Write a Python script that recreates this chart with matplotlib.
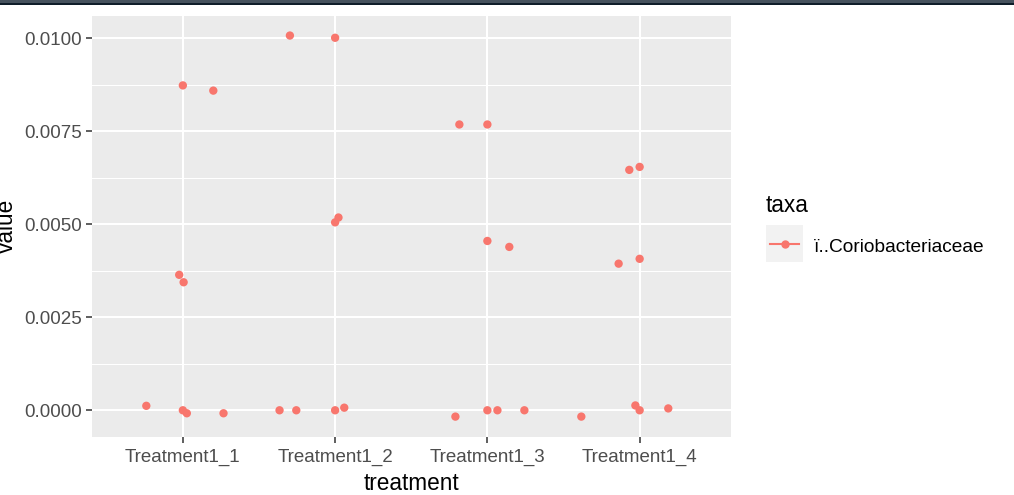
import matplotlib
matplotlib.use("Agg")
import matplotlib.pyplot as plt
from matplotlib.patches import Rectangle
from matplotlib.lines import Line2D

# Datos (jitter horizontal incluido)
treatments = ["Treatment1_1", "Treatment1_2", "Treatment1_3", "Treatment1_4"]
taxa_name = "ï..Coriobacteriaceae"

group = [1, 1, 1, 1, 1, 1, 1, 1,
         2, 2, 2, 2, 2, 2, 2, 2,
         3, 3, 3, 3, 3, 3, 3, 3,
         4, 4, 4, 4, 4, 4, 4, 4]
jitter = [0.0, 0.20, -0.024, 0.005, -0.24, 0.0, 0.026, 0.267,
          -0.297, 0.0, 0.0, 0.022, -0.365, -0.255, 0.0, 0.06,
          -0.184, 0.0, 0.0, 0.144, -0.21, 0.0, 0.066, 0.243,
          0.0, -0.068, 0.0, -0.138, -0.383, -0.028, 0.0, 0.188]
values = [0.00873, 0.00859, 0.00364, 0.00344, 0.00012, 0.0, -0.00008, -0.00008,
          0.01007, 0.01001, 0.00505, 0.00518, 0.0, 0.0, 0.0, 0.00007,
          0.00768, 0.00768, 0.00455, 0.00439, -0.00017, 0.0, 0.0, 0.0,
          0.00654, 0.00646, 0.00407, 0.00394, -0.00017, 0.00013, 0.0, 0.00005]

y_ticks = [0.0, 0.0025, 0.005, 0.0075, 0.01]
y_minor = [0.00125, 0.00375, 0.00625, 0.00875]

W, H = 1014, 495
FONT = "Liberation Sans"
fig = plt.figure(figsize=(W / 100, H / 100), dpi=100)
fig.patch.set_facecolor("white")

# Barra oscura superior (borde de ventana)
fig.patches.append(Rectangle((0, 1 - 3 / H), 1, 3 / H, transform=fig.transFigure,
                             facecolor="#46525e", edgecolor="none"))
fig.patches.append(Rectangle((0, 1 - 5 / H), 1, 2 / H, transform=fig.transFigure,
                             facecolor="#0f1d2a", edgecolor="none"))

left, right, top, bottom = 91.5, 731, 16, 437
ax = fig.add_axes([left / W, 1 - bottom / H, (right - left) / W, (bottom - top) / H])
ax.set_facecolor("#ebebeb")
for s in ax.spines.values():
    s.set_visible(False)

ax.set_xlim(0.4, 4.6)
ax.set_ylim(-0.000718, 0.010595)

for yv in y_minor:
    ax.axhline(yv, color="white", lw=0.75, zorder=1)
for yv in y_ticks:
    ax.axhline(yv, color="white", lw=1.5, zorder=1)
for i in range(len(treatments)):
    ax.axvline(i + 1, color="white", lw=1.5, zorder=1)

xs = [g + j for g, j in zip(group, jitter)]
ax.scatter(xs, values, s=36, color="#F8766D", edgecolors="none", zorder=3)

ax.set_xticks(range(1, len(treatments) + 1))
ax.set_xticklabels(treatments)
ax.set_yticks(y_ticks)
ax.set_yticklabels([f"{v:.4f}" for v in y_ticks])
ax.tick_params(axis="both", colors="#333333", length=4, width=1.1,
               labelcolor="#4d4d4d", labelsize=13.5, pad=3)
ax.tick_params(axis="x", pad=4.5)
for lab in ax.get_xticklabels() + ax.get_yticklabels():
    lab.set_family(FONT)

# Titulos de ejes
fig.text(411 / W, 1 - 490 / H, "treatment", fontsize=16.3, family=FONT,
         ha="center", va="baseline")
fig.text(12.5 / W, 1 - 226 / H, "value", rotation=90, rotation_mode="anchor",
         ha="center", va="baseline", fontsize=16.3, family=FONT)

# Leyenda manual
fig.text(766 / W, 1 - 211.5 / H, "taxa", fontsize=16.3, family=FONT,
         ha="left", va="baseline")
fig.patches.append(Rectangle((766 / W, 1 - 262 / H), 37 / W, 37 / H,
                             transform=fig.transFigure, facecolor="#f2f2f2",
                             edgecolor="none"))
fig.lines.append(Line2D([770 / W, 799 / W], [1 - 244 / H, 1 - 244 / H],
                        transform=fig.transFigure, color="#F8766D", lw=1.5))
fig.lines.append(Line2D([784.5 / W], [1 - 244 / H], transform=fig.transFigure,
                        marker="o", markersize=5, color="#F8766D", lw=0))
fig.text(814 / W, 1 - 251.5 / H, taxa_name, fontsize=13.8, family=FONT,
         ha="left", va="baseline")

fig.savefig("out.png", dpi=100)
